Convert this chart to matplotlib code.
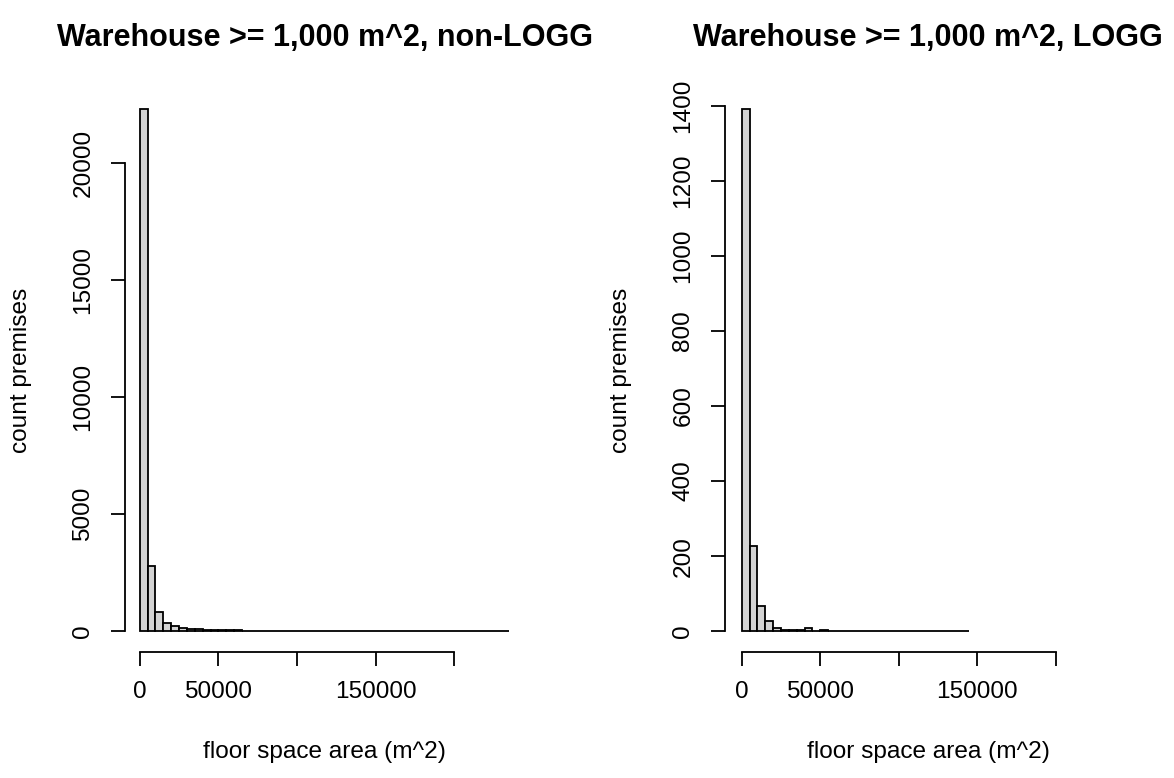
import matplotlib
matplotlib.use("Agg")
import matplotlib.pyplot as plt
import numpy as np

plt.rcParams['font.family'] = ['Liberation Sans', 'DejaVu Sans']

# ---- data (bin width 5000 m^2, starting at 0) ----
bin_width = 5000
left_counts = [22300, 2790, 830, 355, 210, 115, 80, 70, 60, 50, 40, 35, 30,
               0, 0, 0, 0, 0, 0, 0, 0, 0, 0, 0, 0, 0, 0, 0, 0, 0,
               0, 0, 0, 0, 0, 0, 0, 0, 0, 0, 0, 0, 0, 0, 0, 0, 1]
right_counts = [1392, 226, 68, 27, 8, 4, 3, 3, 8, 0, 4, 0, 0, 0, 0,
                0, 0, 0, 0, 0, 0, 0, 0, 0, 0, 0, 0, 0, 1]

left_title = "Warehouse >= 1,000 m^2, non-LOGG"
right_title = "Warehouse >= 1,000 m^2, LOGG"
xlabel = "floor space area (m^2)"
ylabel = "count premises"

x_ticks = [0, 50000, 100000, 150000, 200000]
x_ticklabels = ["0", "50000", "", "150000", ""]
left_yticks = [0, 5000, 10000, 15000, 20000]
right_yticks = [0, 200, 400, 600, 800, 1000, 1200, 1400]

W, H = 1174, 778
fig = plt.figure(figsize=(W / 100, H / 100), dpi=100)

def px_ax(x0, x1, y0, y1):
    return fig.add_axes([x0 / W, 1 - y1 / H, (x1 - x0) / W, (y1 - y0) / H])

FS = 17.6
LW = 1.3

def draw(ax, counts, xlim, ylim, yticks, title, title_cx):
    counts = np.asarray(counts)
    edges = np.arange(len(counts)) * bin_width
    ax.bar(edges, counts, width=bin_width, align='edge', color='#D3D3D3',
           edgecolor='black', linewidth=LW)
    ax.set_xlim(*xlim)
    ax.set_ylim(*ylim)
    for s in ['top', 'right']:
        ax.spines[s].set_visible(False)
    ax.spines['left'].set_bounds(yticks[0], yticks[-1])
    ax.spines['bottom'].set_bounds(x_ticks[0], x_ticks[-1])
    for s in ['left', 'bottom']:
        ax.spines[s].set_linewidth(LW)
    ax.set_xticks(x_ticks)
    ax.set_xticklabels(x_ticklabels)
    ax.set_yticks(yticks)
    ax.set_yticklabels([str(t) for t in yticks], rotation=90, va='center')
    ax.tick_params(axis='both', direction='out', length=10, width=LW,
                   labelsize=FS)
    ax.tick_params(axis='x', pad=11)
    ax.tick_params(axis='y', pad=12)
    ax.set_facecolor('white')
    # texts
    bb = ax.get_position()
    cx = bb.x0 + bb.width / 2
    fig.text(title_cx / W, 1 - 46 / H, title, ha='center', va='baseline',
             fontsize=22, fontweight='bold')
    fig.text(cx, 1 - 752 / H, xlabel, ha='center', va='center', fontsize=FS)
    return ax

axL = px_ax(125, 524, 88, 652)
draw(axL, left_counts, (-9400, 244400), (-892, 23192), left_yticks,
     left_title, 325)
fig.text(21 / W, 1 - 370 / H, ylabel, rotation=90, ha='center', va='center',
         fontsize=FS)

axR = px_ax(725, 1131, 88, 652)
draw(axR, right_counts, (-10640, 247960), (-55.7, 1447.7), right_yticks,
     right_title, 928)
fig.text(621 / W, 1 - 370 / H, ylabel, rotation=90, ha='center', va='center',
         fontsize=FS)

fig.savefig("out.png", dpi=100, facecolor='white')
